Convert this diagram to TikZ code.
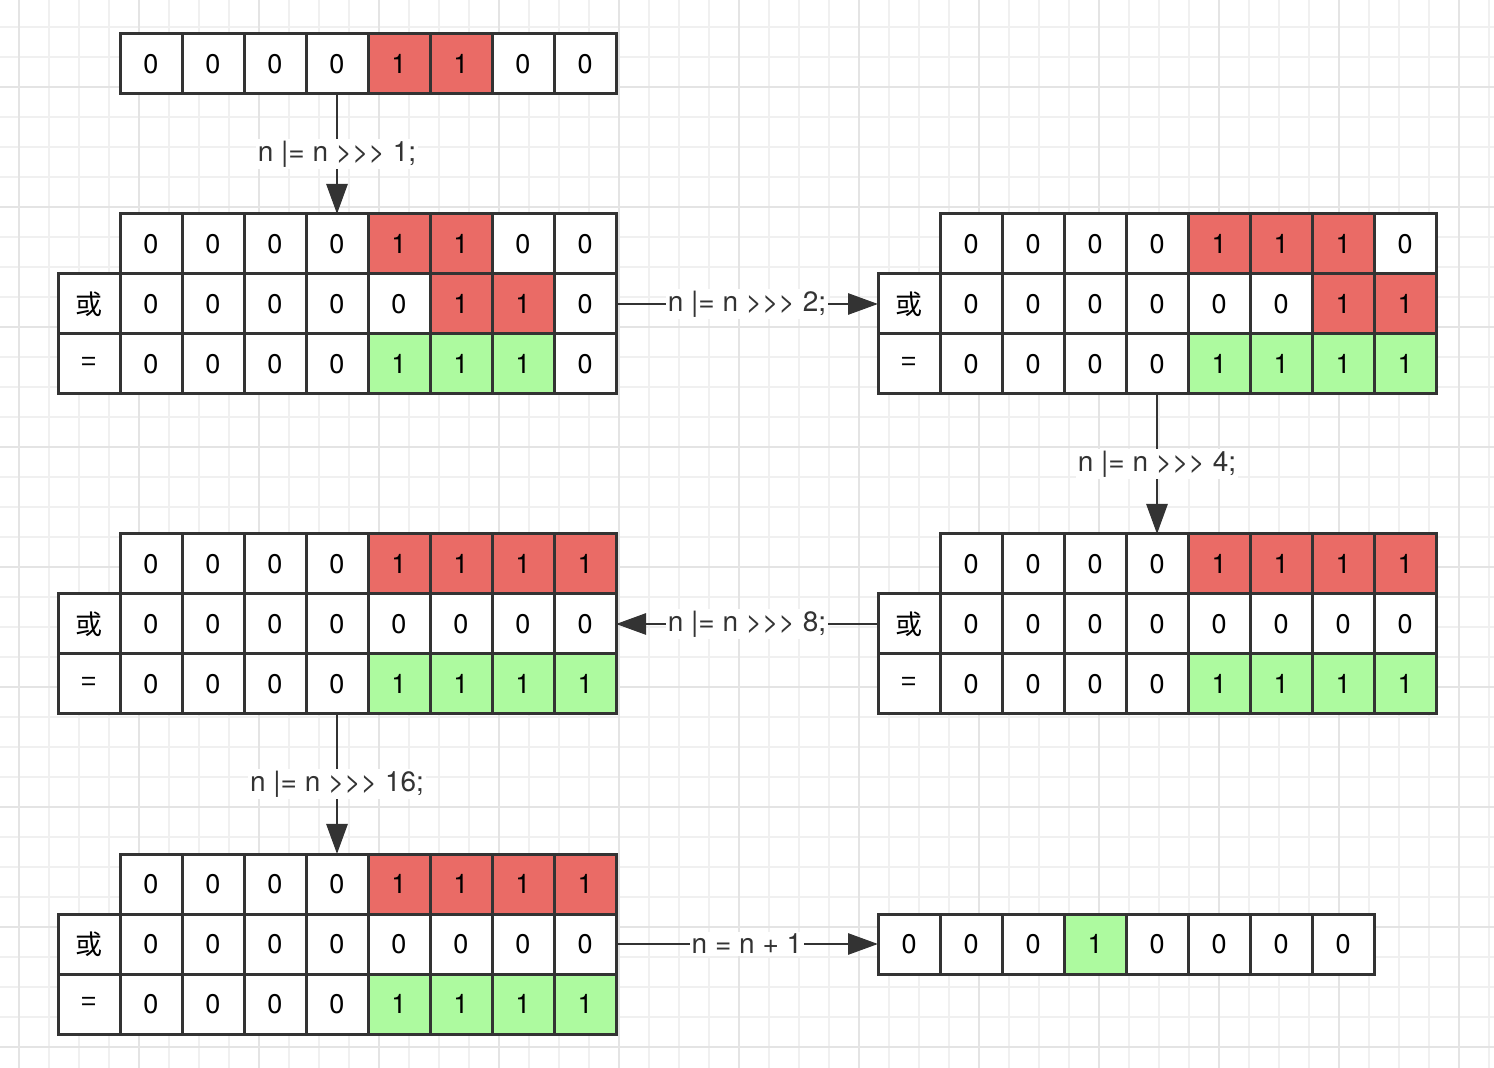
\documentclass[tikz,border=0pt]{standalone}
\usepackage{fontspec}
\setmainfont{TeX Gyre Heros}[Ligatures=TeXOff]
\newfontfamily\cjk{Noto Sans CJK SC}
\usetikzlibrary{arrows.meta}

\definecolor{bitR}{HTML}{EA6B66}
\definecolor{bitG}{HTML}{ADFA9F}
\definecolor{ink}{HTML}{333333}
\definecolor{gridminor}{HTML}{F0F0F0}
\definecolor{gridmajor}{HTML}{E4E4E4}

\tikzset{
	bitcell/.style={draw=ink, line width=1.5pt, minimum width=31pt, minimum height=30pt,
		inner sep=0pt, outer sep=0pt, font=\fontsize{13.5}{16}\selectfont},
	flow/.style={draw=ink, line width=1.4pt, -{Triangle[length=15pt,width=10.5pt]}},
	edgelabel/.style={fill=white, inner sep=1pt, text=ink, font=\fontsize{14}{16}\selectfont}
}

% one row of bits: name, left x, centre y, value/colour list
\newcommand{\bitrow}[4]{%
	\foreach \v/\c [count=\i] in {#4}
		\node[bitcell, fill=\c] (#1-\i) at ({#2+31+62*(\i-1)}, #3) {\v};
}
% block of three rows: name, left x, top y, row 1, row 2 (or), row 3 (=)
\newcommand{\bitblock}[6]{%
	\bitrow{#1-1}{#2+62}{#3+30}{#4}
	\node[bitcell, fill=white] (#1-or) at (#2+31, #3+90) {\cjk 或};
	\bitrow{#1-2}{#2+62}{#3+90}{#5}
	\node[bitcell, fill=white] (#1-eq) at (#2+31, #3+150) {\cjk =};
	\bitrow{#1-3}{#2+62}{#3+150}{#6}
}

\begin{document}
\begin{tikzpicture}[x=0.5pt, y=-0.5pt]
	\useasboundingbox (0,0) rectangle (1494,1068);
	\fill[white] (0,0) rectangle (1494,1068);
	% background grid
	\foreach \x in {19,49,...,1489} \draw[gridminor, line width=0.6pt] (\x,0) -- (\x,1068);
	\foreach \y in {27,57,...,1047} \draw[gridminor, line width=0.6pt] (0,\y) -- (1494,\y);
	\foreach \x in {19,139,...,1459} \draw[gridmajor, line width=0.6pt] (\x,0) -- (\x,1068);
	\foreach \y in {87,207,...,1047} \draw[gridmajor, line width=0.6pt] (0,\y) -- (1494,\y);

	% start value
	\bitrow{top}{120}{64}{0/white,0/white,0/white,0/white,1/bitR,1/bitR,0/white,0/white}

	\bitblock{A}{58}{214}
		{0/white,0/white,0/white,0/white,1/bitR,1/bitR,0/white,0/white}
		{0/white,0/white,0/white,0/white,0/white,1/bitR,1/bitR,0/white}
		{0/white,0/white,0/white,0/white,1/bitG,1/bitG,1/bitG,0/white}
	\bitblock{B}{878}{214}
		{0/white,0/white,0/white,0/white,1/bitR,1/bitR,1/bitR,0/white}
		{0/white,0/white,0/white,0/white,0/white,0/white,1/bitR,1/bitR}
		{0/white,0/white,0/white,0/white,1/bitG,1/bitG,1/bitG,1/bitG}
	\bitblock{C}{58}{534}
		{0/white,0/white,0/white,0/white,1/bitR,1/bitR,1/bitR,1/bitR}
		{0/white,0/white,0/white,0/white,0/white,0/white,0/white,0/white}
		{0/white,0/white,0/white,0/white,1/bitG,1/bitG,1/bitG,1/bitG}
	\bitblock{D}{878}{534}
		{0/white,0/white,0/white,0/white,1/bitR,1/bitR,1/bitR,1/bitR}
		{0/white,0/white,0/white,0/white,0/white,0/white,0/white,0/white}
		{0/white,0/white,0/white,0/white,1/bitG,1/bitG,1/bitG,1/bitG}
	\bitblock{E}{58}{854}
		{0/white,0/white,0/white,0/white,1/bitR,1/bitR,1/bitR,1/bitR}
		{0/white,0/white,0/white,0/white,0/white,0/white,0/white,0/white}
		{0/white,0/white,0/white,0/white,1/bitG,1/bitG,1/bitG,1/bitG}

	% result
	\bitrow{R}{878}{944}{0/white,0/white,0/white,1/bitG,0/white,0/white,0/white,0/white}

	% steps
	\draw[flow] (top-4.south) -- node[edgelabel] (s1) {n |= n >>> 1;} (A-1-4.north);
	\draw[flow] (A-2-8.east) -- node[edgelabel] (s2) {n |= n >>> 2;} (B-or.west);
	\draw[flow] (B-3-4.south) -- node[edgelabel] (s4) {n |= n >>> 4;} (D-1-4.north);
	\draw[flow] (D-or.west) -- node[edgelabel] (s8) {n |= n >>> 8;} (C-2-8.east);
	\draw[flow] (C-3-4.south) -- node[edgelabel] (s16) {n |= n >>> 16;} (E-1-4.north);
	\draw[flow] (E-2-8.east) -- node[edgelabel] (s17) {n = n + 1} (R-1.west);
\end{tikzpicture}
\end{document}
